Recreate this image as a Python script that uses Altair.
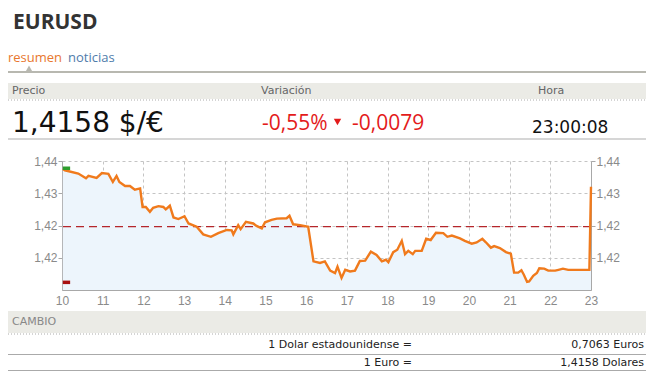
import altair as alt
import pandas as pd

# ---- data ----
days = [10.02, 10.07, 10.40, 10.59, 10.65, 10.85, 10.98, 11.14, 11.25, 11.34, 11.41,
        11.55, 11.67, 11.79, 11.92, 11.98, 12.06, 12.16, 12.24, 12.37, 12.49,
        12.55, 12.65, 12.74, 12.86, 13.01, 13.11, 13.31, 13.47, 13.66, 13.84,
        14.05, 14.17, 14.21, 14.33, 14.39, 14.52, 14.70, 14.78, 14.91, 14.99,
        15.15, 15.28, 15.52, 15.59, 15.68, 15.85, 16.05, 16.18, 16.34, 16.46,
        16.59, 16.71, 16.77, 16.87, 16.96, 17.08, 17.20, 17.32, 17.45, 17.59,
        17.73, 17.86, 17.96, 18.02, 18.14, 18.24, 18.35, 18.43, 18.51, 18.62,
        18.68, 18.84, 18.95, 19.06, 19.19, 19.37, 19.47, 19.58, 19.78, 19.90,
        20.07, 20.19, 20.33, 20.41, 20.54, 20.62, 20.76, 20.91, 21.03, 21.11,
        21.21, 21.29, 21.35, 21.43, 21.48, 21.58, 21.67, 21.73, 21.85, 21.95,
        22.12, 22.20, 22.31, 22.44, 22.96, 23.00]
values = [1.4380, 1.4377, 1.4369, 1.4357, 1.4363, 1.4358, 1.4370, 1.4368, 1.4348, 1.4363, 1.4348,
          1.4338, 1.4338, 1.4329, 1.4332, 1.4286, 1.4286, 1.4274, 1.4284, 1.4288, 1.4286,
          1.4280, 1.4289, 1.4260, 1.4256, 1.4263, 1.4245, 1.4237, 1.4218, 1.4212, 1.4221,
          1.4229, 1.4228, 1.4218, 1.4241, 1.4231, 1.4249, 1.4245, 1.4239, 1.4233, 1.4248,
          1.4254, 1.4257, 1.4258, 1.4264, 1.4243, 1.4241, 1.4237, 1.4151, 1.4147, 1.4151,
          1.4128, 1.4122, 1.4138, 1.4110, 1.4130, 1.4126, 1.4128, 1.4152, 1.4153, 1.4175,
          1.4167, 1.4151, 1.4155, 1.4149, 1.4174, 1.4180, 1.4202, 1.4169, 1.4177, 1.4169,
          1.4177, 1.4177, 1.4207, 1.4204, 1.4222, 1.4221, 1.4212, 1.4215, 1.4208, 1.4202,
          1.4195, 1.4198, 1.4207, 1.4199, 1.4185, 1.4189, 1.4184, 1.4174, 1.4170, 1.4123,
          1.4123, 1.4129, 1.4118, 1.4100, 1.4101, 1.4115, 1.4122, 1.4134, 1.4133, 1.4128,
          1.4128, 1.4130, 1.4133, 1.4130, 1.4130, 1.4336]

prev_close = 1.4237
high_value = 1.4382
low_value = 1.4099
y_ticks = [1.416, 1.424, 1.432, 1.44]
y_domain = [1.408, 1.44]
x_domain = [10, 23]
x_grid = [10 + i * 0.5 for i in range(27)]

title = "EURUSD"
tabs = ["resumen", "noticias"]
headers = ["Precio", "Variación", "Hora"]
price_text = "1,4158 $/€"
pct_text = "-0,55%"
chg_text = "-0,0079"
time_text = "23:00:08"
cambio = "CAMBIO"
rows_left = ["1 Dolar estadounidense =", "1 Euro ="]
rows_right = ["0,7063 Euros", "1,4158 Dolares"]

df = pd.DataFrame({"day": days, "value": values})
marks_df = pd.DataFrame({"x": [10.02, 10.02], "x2": [10.2, 10.2],
                         "v": [high_value, low_value], "kind": ["high", "low"]})

xs = alt.Scale(domain=x_domain, nice=False, zero=False)
ys = alt.Scale(domain=y_domain, nice=False, zero=False)

label_y = "replace(format(datum.value, '.2f'), '.', ',')"
GRID = "#c4c4c4"
AXC = "#a8a8a8"
LAB = "#8a8a8a"

x_enc = alt.X("day:Q", scale=xs, title=None,
              axis=alt.Axis(values=x_grid, labelExpr="datum.value % 1 == 0 ? datum.value : ''",
                            grid=True, gridDash=[3, 3], gridColor=GRID, ticks=False,
                            domainColor=AXC, labelColor=LAB, labelFontSize=12,
                            labelFont="Liberation Sans", labelPadding=5, labelFlush=False))

area = alt.Chart(df).mark_area(color="#edf5fc", opacity=1).encode(
    x=x_enc,
    y=alt.Y("value:Q", scale=ys, title=None,
            axis=alt.Axis(values=y_ticks, labelExpr=label_y, grid=True, gridDash=[3, 3],
                          gridColor=GRID, tickSize=4, tickColor=AXC, domainColor=AXC,
                          labelColor=LAB, labelFontSize=12, labelFont="Liberation Sans",
                          labelPadding=1)),
    y2=alt.datum(y_domain[0]),
)

ref_line = alt.Chart(pd.DataFrame({"v": [prev_close]})).mark_rule(
    color="#b5262b", strokeDash=[8, 5], strokeWidth=1.3).encode(
    y=alt.Y("v:Q", scale=ys, axis=None))

line = alt.Chart(df).mark_line(color="#f07a1c", strokeWidth=2.4).encode(
    x=alt.X("day:Q", scale=xs), y=alt.Y("value:Q", scale=ys, axis=None))

hl = alt.Chart(marks_df).mark_rule(strokeWidth=3.5).encode(
    x=alt.X("x:Q", scale=xs), x2="x2:Q",
    y=alt.Y("v:Q", scale=ys, axis=None),
    color=alt.Color("kind:N", scale=alt.Scale(domain=["high", "low"], range=["#2e9e2e", "#a81010"]),
                    legend=None))

right_axis = alt.Chart(df).mark_line(opacity=0).encode(
    x=alt.X("day:Q", scale=xs),
    y=alt.Y("value:Q", scale=ys, title=None,
            axis=alt.Axis(orient="right", values=y_ticks, labelExpr=label_y, grid=False,
                          tickSize=4, tickColor=AXC, domainColor=AXC, labelColor=LAB,
                          labelFontSize=12, labelFont="Liberation Sans", labelPadding=1)))

one = alt.Data(values=[{"k": 0}])


def txt(s, x, y, align="left", baseline="alphabetic", **kw):
    return alt.Chart(one).mark_text(text=s, align=align, baseline=baseline, **kw).encode(
        x=alt.value(x), y=alt.value(y))


def rect(x1, x2, y1, y2, color):
    return alt.Chart(one).mark_rect(color=color).encode(
        x=alt.value(x1), x2=alt.value(x2), y=alt.value(y1), y2=alt.value(y2))


def hrule(x1, x2, y, color, width=1, dash=None):
    kw = dict(color=color, strokeWidth=width)
    if dash:
        kw["strokeDash"] = dash
    return alt.Chart(one).mark_rule(**kw).encode(
        x=alt.value(x1), x2=alt.value(x2), y=alt.value(y))


L, R = -54, 584
deco = [
    txt(title, -49, -132, font="Open Sans", fontSize=21, fontWeight="bold", color="#333333"),
    txt(tabs[0], -54, -99, font="Open Sans", fontSize=13, color="#e8772e"),
    txt(tabs[1], 6, -99, font="Open Sans", fontSize=13, color="#4f7cab"),
    hrule(L, R, -89, "#b8b8b0", 2),
    alt.Chart(one).mark_point(shape="triangle-up", filled=True, size=45, color="#b8b8b0",
                              opacity=1).encode(x=alt.value(-33), y=alt.value(-92.5)),
    rect(L, R, -78, -62, "#ebebe6"),
    hrule(L, R, -61, "#aaaaaa", 1, [1, 2]),
    txt(headers[0], -50, -70, baseline="middle", font="DejaVu Sans", fontSize=11, color="#666666"),
    txt(headers[1], 199, -70, baseline="middle", font="DejaVu Sans", fontSize=11, color="#666666"),
    txt(headers[2], 476, -70, baseline="middle", font="DejaVu Sans", fontSize=11, color="#666666"),
    txt(price_text, -50, -29, font="DejaVu Sans", fontSize=28, color="#111111"),
    txt(pct_text, 200, -31, font="Open Sans", fontSize=21, color="#e31b1b"),
    alt.Chart(one).mark_point(shape="triangle-down", filled=True, size=55, color="#e31b1b",
                              opacity=1).encode(x=alt.value(275.5), y=alt.value(-39)),
    txt(chg_text, 290, -31, font="Open Sans", fontSize=21, color="#e31b1b"),
    txt(time_text, 470, -28, font="DejaVu Sans", fontSize=17, color="#111111"),
    hrule(L, R, -22, "#c8c8c8", 1.5),
    rect(L, R, 150, 172, "#ebebe6"),
    txt(cambio, -50, 161, baseline="middle", font="DejaVu Sans", fontSize=11, color="#888888"),
    hrule(L, R, 173, "#aaaaaa", 1, [1, 2]),
    txt(rows_left[0], 350, 184, align="right", baseline="middle", font="DejaVu Sans", fontSize=11, color="#222222"),
    txt(rows_right[0], 582, 184, align="right", baseline="middle", font="DejaVu Sans", fontSize=11, color="#222222"),
    hrule(L, R, 193.5, "#aaaaaa", 1),
    txt(rows_left[1], 350, 202, align="right", baseline="middle", font="DejaVu Sans", fontSize=11, color="#222222"),
    txt(rows_right[1], 582, 202, align="right", baseline="middle", font="DejaVu Sans", fontSize=11, color="#222222"),
    hrule(L, R, 209.5, "#aaaaaa", 1),
]

chart = alt.layer(area, ref_line, line, hl, right_axis, *deco).resolve_axis(
    y="independent").properties(
    width=529, height=129,
    autosize=alt.AutoSizeParams(type="none"),
    padding={"left": 54, "top": 153, "right": 55, "bottom": 81},
    background="white",
).configure_view(strokeWidth=0)

chart.save("out.html", embed_options={"renderer": "svg", "actions": False})
